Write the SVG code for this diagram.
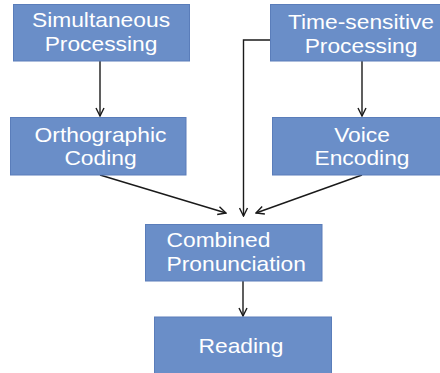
<svg xmlns="http://www.w3.org/2000/svg" width="440" height="373" viewBox="0 0 440 373">
<defs>
<style>
.box{fill:#6a8ec8;stroke:#5a7dba;stroke-width:1}
.t{font-family:"Liberation Sans",Arial,sans-serif;font-size:20px;fill:#ffffff}
.c{text-anchor:middle}
.ln{fill:none;stroke:#1a1a1a;stroke-width:1.4}
</style>
<marker id="ah" viewBox="0 0 10 10" refX="9" refY="5" markerWidth="10" markerHeight="10" markerUnits="userSpaceOnUse" orient="auto">
<path d="M1,1 L9,5 L1,9" fill="none" stroke="#1a1a1a" stroke-width="1.4"/>
</marker>
</defs>
<rect width="440" height="373" fill="#ffffff"/>
<g id="connectors">
<line class="ln" x1="100" y1="61" x2="100" y2="116" marker-end="url(#ah)"/>
<line class="ln" x1="362" y1="61" x2="362" y2="116" marker-end="url(#ah)"/>
<polyline class="ln" points="270,40 243.5,40 243.5,216" marker-end="url(#ah)"/>
<line class="ln" x1="100" y1="175" x2="226" y2="213" marker-end="url(#ah)"/>
<line class="ln" x1="362" y1="175" x2="256" y2="213" marker-end="url(#ah)"/>
<line class="ln" x1="243" y1="281" x2="243" y2="316" marker-end="url(#ah)"/>
</g>
<g id="simultaneous">
<rect class="box" x="13.5" y="4.5" width="176" height="56.5"/>
<text class="t c" transform="translate(101,27) scale(1.14,1)">Simultaneous</text>
<text class="t c" transform="translate(101,51) scale(1.14,1)">Processing</text>
</g>
<g id="timesensitive">
<rect class="box" x="270.5" y="4.5" width="180" height="56.5"/>
<text class="t c" transform="translate(361,29) scale(1.14,1)">Time-sensitive</text>
<text class="t c" transform="translate(361,53) scale(1.14,1)">Processing</text>
</g>
<g id="orthographic">
<rect class="box" x="10.5" y="117.5" width="175.5" height="57.5"/>
<text class="t c" transform="translate(100.5,141.5) scale(1.14,1)">Orthographic</text>
<text class="t c" transform="translate(100.5,165) scale(1.14,1)">Coding</text>
</g>
<g id="voice">
<rect class="box" x="272.5" y="117.5" width="180" height="57.5"/>
<text class="t c" transform="translate(362,141.5) scale(1.14,1)">Voice</text>
<text class="t c" transform="translate(362,165) scale(1.14,1)">Encoding</text>
</g>
<g id="combined">
<rect class="box" x="145.5" y="224.5" width="176.5" height="56.5"/>
<text class="t" transform="translate(166.5,246.5) scale(1.14,1)">Combined</text>
<text class="t" transform="translate(166.5,270.5) scale(1.14,1)">Pronunciation</text>
</g>
<g id="reading">
<rect class="box" x="154.5" y="317" width="177" height="70"/>
<text class="t c" transform="translate(241,352.5) scale(1.14,1)">Reading</text>
</g>
</svg>
